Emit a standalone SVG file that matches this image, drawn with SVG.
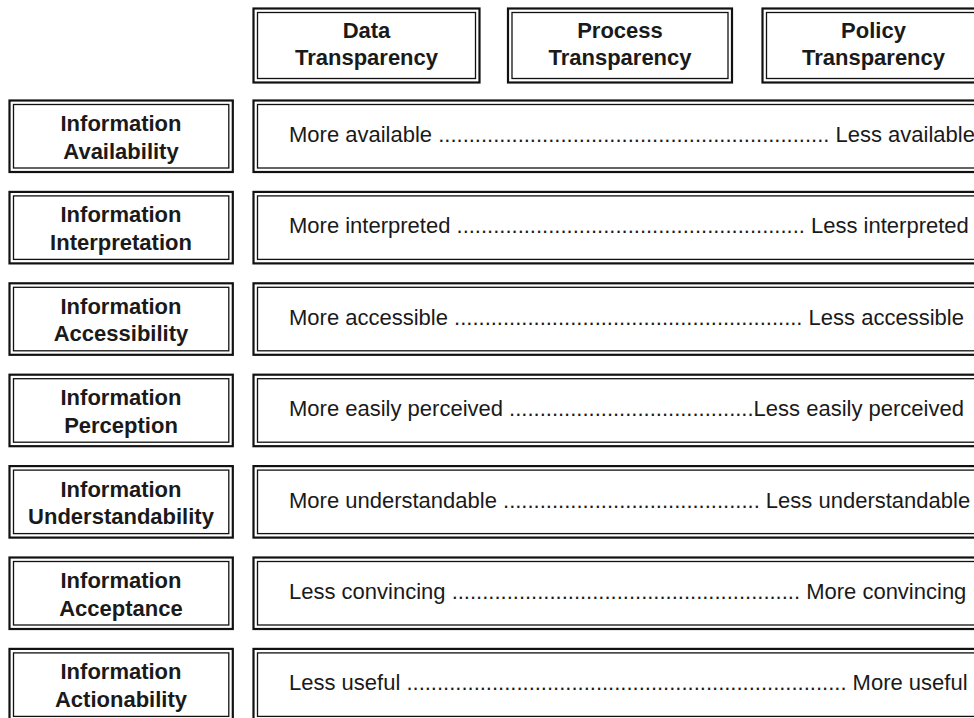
<svg xmlns="http://www.w3.org/2000/svg" width="974" height="718" viewBox="0 0 974 718">
<style>
.outer{fill:#fff;stroke:#111;stroke-width:2.2}
.inner{fill:none;stroke:#111;stroke-width:1.3}
.lbl{font-family:"Liberation Sans",Arial,sans-serif;font-weight:bold;font-size:22px;fill:#1a1a1a;text-anchor:middle}
.row{font-family:"Liberation Sans",Arial,sans-serif;font-size:22px;fill:#1a1a1a}
</style>
<rect width="974" height="718" fill="#fff"/>
<g id="hdr-data">
<rect class="outer" x="253.5" y="8.5" width="226" height="74"/>
<rect class="inner" x="257.5" y="12.5" width="218" height="66"/>
<text class="lbl" x="366.5" y="37.5">Data</text>
<text class="lbl" x="366.5" y="64.5">Transparency</text>
</g>
<g id="hdr-process">
<rect class="outer" x="508" y="8.5" width="224" height="74"/>
<rect class="inner" x="512" y="12.5" width="216" height="66"/>
<text class="lbl" x="620" y="37.5">Process</text>
<text class="lbl" x="620" y="64.5">Transparency</text>
</g>
<g id="hdr-policy">
<rect class="outer" x="762.5" y="8.5" width="222" height="74"/>
<rect class="inner" x="766.5" y="12.5" width="214" height="66"/>
<text class="lbl" x="873.5" y="37.5">Policy</text>
<text class="lbl" x="873.5" y="64.5">Transparency</text>
</g>

<g id="row-availability">
<rect class="outer" x="9.5" y="100.5" width="223.3" height="71.5"/>
<rect class="inner" x="13.5" y="104.5" width="215.3" height="63.5"/>
<text class="lbl" x="121" y="131">Information</text>
<text class="lbl" x="121" y="158.5">Availability</text>
</g>
<g id="scale-availability">
<rect class="outer" x="253.5" y="100.5" width="740" height="71.5"/>
<rect class="inner" x="257.5" y="104.5" width="732" height="63.5"/>
<text class="row" x="289" y="142">More available ................................................................ Less available</text>
</g>

<g id="row-interpretation">
<rect class="outer" x="9.5" y="191.9" width="223.3" height="71.5"/>
<rect class="inner" x="13.5" y="195.9" width="215.3" height="63.5"/>
<text class="lbl" x="121" y="222.4">Information</text>
<text class="lbl" x="121" y="249.9">Interpretation</text>
</g>
<g id="scale-interpretation">
<rect class="outer" x="253.5" y="191.9" width="740" height="71.5"/>
<rect class="inner" x="257.5" y="195.9" width="732" height="63.5"/>
<text class="row" x="289" y="233.4">More interpreted ......................................................... Less interpreted</text>
</g>

<g id="row-accessibility">
<rect class="outer" x="9.5" y="283.3" width="223.3" height="71.5"/>
<rect class="inner" x="13.5" y="287.3" width="215.3" height="63.5"/>
<text class="lbl" x="121" y="313.8">Information</text>
<text class="lbl" x="121" y="341.3">Accessibility</text>
</g>
<g id="scale-accessibility">
<rect class="outer" x="253.5" y="283.3" width="740" height="71.5"/>
<rect class="inner" x="257.5" y="287.3" width="732" height="63.5"/>
<text class="row" x="289" y="324.8">More accessible ......................................................... Less accessible</text>
</g>

<g id="row-perception">
<rect class="outer" x="9.5" y="374.7" width="223.3" height="71.5"/>
<rect class="inner" x="13.5" y="378.7" width="215.3" height="63.5"/>
<text class="lbl" x="121" y="405.2">Information</text>
<text class="lbl" x="121" y="432.7">Perception</text>
</g>
<g id="scale-perception">
<rect class="outer" x="253.5" y="374.7" width="740" height="71.5"/>
<rect class="inner" x="257.5" y="378.7" width="732" height="63.5"/>
<text class="row" x="289" y="416.2">More easily perceived ........................................Less easily perceived</text>
</g>

<g id="row-understandability">
<rect class="outer" x="9.5" y="466.1" width="223.3" height="71.5"/>
<rect class="inner" x="13.5" y="470.1" width="215.3" height="63.5"/>
<text class="lbl" x="121" y="496.6">Information</text>
<text class="lbl" x="121" y="524.1">Understandability</text>
</g>
<g id="scale-understandability">
<rect class="outer" x="253.5" y="466.1" width="740" height="71.5"/>
<rect class="inner" x="257.5" y="470.1" width="732" height="63.5"/>
<text class="row" x="289" y="507.6">More understandable .......................................... Less understandable</text>
</g>

<g id="row-acceptance">
<rect class="outer" x="9.5" y="557.5" width="223.3" height="71.5"/>
<rect class="inner" x="13.5" y="561.5" width="215.3" height="63.5"/>
<text class="lbl" x="121" y="588">Information</text>
<text class="lbl" x="121" y="615.5">Acceptance</text>
</g>
<g id="scale-acceptance">
<rect class="outer" x="253.5" y="557.5" width="740" height="71.5"/>
<rect class="inner" x="257.5" y="561.5" width="732" height="63.5"/>
<text class="row" x="289" y="599">Less convincing ......................................................... More convincing</text>
</g>

<g id="row-actionability">
<rect class="outer" x="9.5" y="648.9" width="223.3" height="71.5"/>
<rect class="inner" x="13.5" y="652.9" width="215.3" height="63.5"/>
<text class="lbl" x="121" y="679.4">Information</text>
<text class="lbl" x="121" y="706.9">Actionability</text>
</g>
<g id="scale-actionability">
<rect class="outer" x="253.5" y="648.9" width="740" height="71.5"/>
<rect class="inner" x="257.5" y="652.9" width="732" height="63.5"/>
<text class="row" x="289" y="690.4">Less useful ........................................................................ More useful</text>
</g>
</svg>
